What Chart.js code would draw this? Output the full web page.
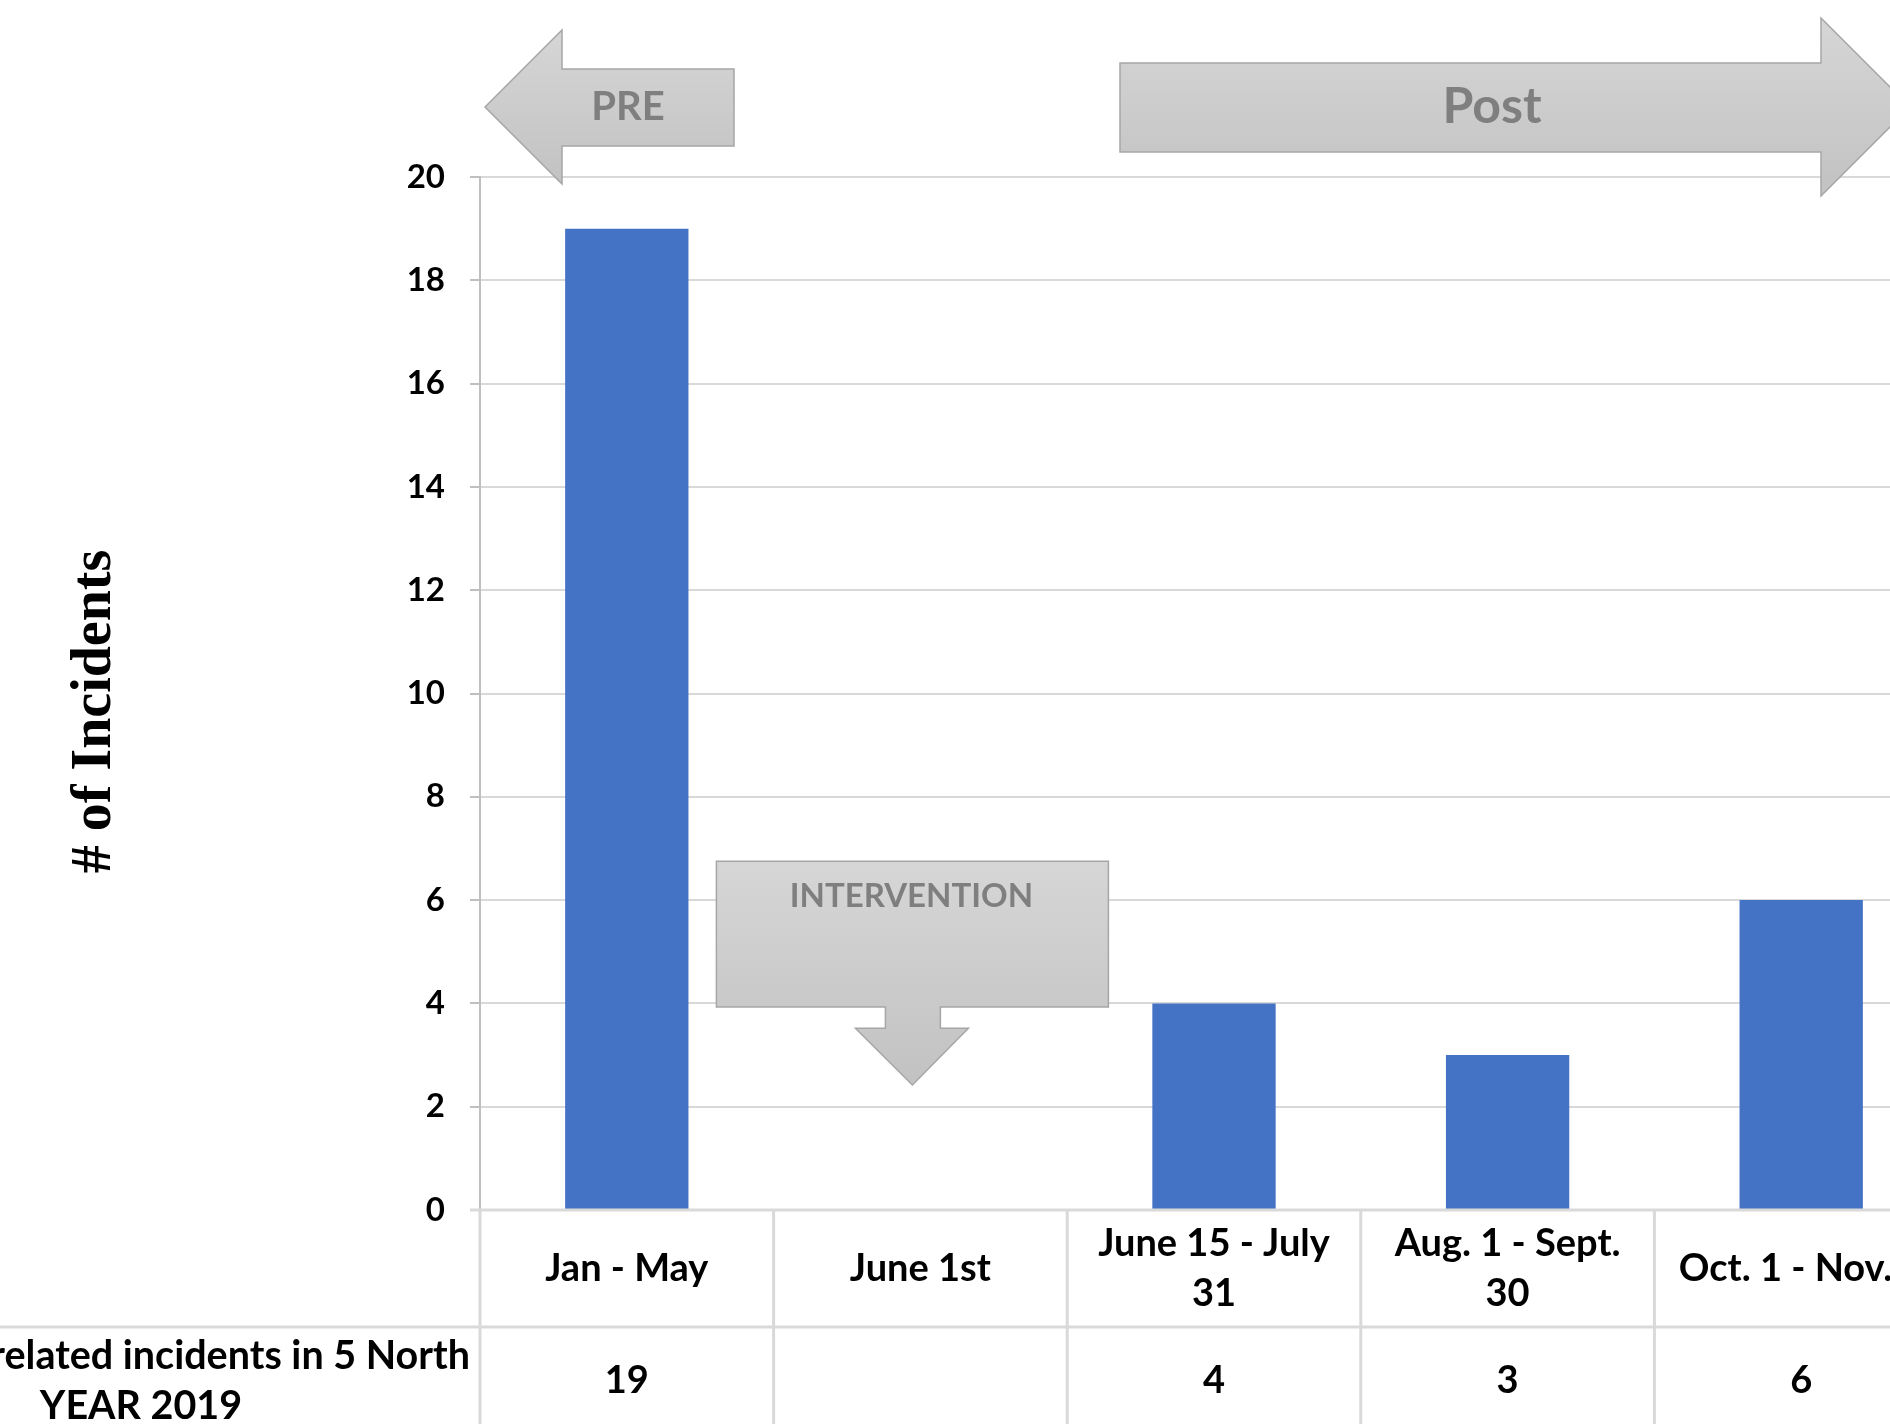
<!DOCTYPE html>
<html>
<head>
<meta charset="utf-8">
<script src="https://cdn.jsdelivr.net/npm/chart.js@4.4.1/dist/chart.umd.min.js"></script>
<style>
  html, body { margin: 0; padding: 0; background: #fff; overflow: hidden; width: 1890px; height: 1424px; }
  #wrap { position: relative; width: 1960px; height: 1424px; }
</style>
</head>
<body>
<div id="wrap"><canvas id="chart" width="1960" height="1424"></canvas></div>
<script>
// data
const categories = [['Jan - May'], ['June 1st'], ['June 15 - July', '31'], ['Aug. 1 - Sept.', '30'], ['Oct. 1 - Nov. 8']];
const incidents = [19, null, 4, 3, 6];
const seriesName = ['Behavior-related incidents in 5 North', 'YEAR 2019'];
const yTicks = { min: 0, max: 20, step: 2 };
const axisTitle = '# of Incidents';
const phaseLabels = { pre: 'PRE', post: 'Post', intervention: 'INTERVENTION' };

const SANS = 'Lato, "Open Sans", sans-serif';
const GRID = '#d9d9d9';

function shapeFill(ctx, top, bottom) {
  const g = ctx.createLinearGradient(0, top, 0, bottom);
  g.addColorStop(0, '#d6d6d6');
  g.addColorStop(1, '#c2c2c2');
  return g;
}

function drawPoly(ctx, pts, top, bottom) {
  ctx.beginPath();
  pts.forEach((p, i) => i ? ctx.lineTo(p[0], p[1]) : ctx.moveTo(p[0], p[1]));
  ctx.closePath();
  ctx.fillStyle = shapeFill(ctx, top, bottom);
  ctx.fill();
  ctx.strokeStyle = '#a6a6a6';
  ctx.lineWidth = 1.5;
  ctx.stroke();
}

// Excel-style data table under the plot
const tablePlugin = {
  id: 'dataTable',
  afterDraw(chart) {
    const { ctx, chartArea, scales: { x } } = chart;
    const half = (x.getPixelForValue(1) - x.getPixelForValue(0)) / 2;
    const top = chartArea.bottom;
    const row1 = 117;
    const h = chart.height;
    ctx.save();
    ctx.strokeStyle = GRID;
    ctx.lineWidth = 3;
    ctx.beginPath();
    ctx.moveTo(chartArea.left - 10, top); ctx.lineTo(chartArea.right, top);
    ctx.moveTo(0, top + row1); ctx.lineTo(chartArea.right, top + row1);
    for (let i = 0; i <= categories.length; i++) {
      const px = x.getPixelForValue(0) - half + i * half * 2;
      ctx.moveTo(px, top); ctx.lineTo(px, h);
    }
    ctx.stroke();

    ctx.fillStyle = '#000';
    ctx.font = 'bold 38px ' + SANS;
    ctx.textAlign = 'center';
    ctx.textBaseline = 'middle';
    const lh = 50;
    categories.forEach((lines, i) => {
      const cx = x.getPixelForValue(i);
      const cy = top + row1 / 2 - (lines.length - 1) * lh / 2;
      lines.forEach((t, j) => ctx.fillText(t, cx, cy + j * lh));
      if (incidents[i] != null) ctx.fillText(String(incidents[i]), cx, top + row1 + 54);
    });
    ctx.font = 'bold 39.5px ' + SANS;
    ctx.textAlign = 'right';
    ctx.fillText(seriesName[0], chartArea.left - 10, top + row1 + 29);
    ctx.textAlign = 'center';
    ctx.fillText(seriesName[1], 141, top + row1 + 79);

    // y axis title
    ctx.save();
    ctx.translate(96, (chartArea.top + chartArea.bottom) / 2 + 18);
    ctx.rotate(-Math.PI / 2);
    ctx.font = 'bold 56px "Liberation Serif", "Times New Roman", serif';
    ctx.fillText(axisTitle, 0, 0);
    ctx.restore();
    ctx.restore();
  }
};

const phasePlugin = {
  id: 'phases',
  afterDraw(chart) {
    const { ctx, scales: { x, y } } = chart;
    ctx.save();
    // PRE arrow (left)
    const cy = 107;
    drawPoly(ctx, [[485, cy], [562, cy - 77], [562, cy - 38], [734, cy - 38], [734, cy + 39], [562, cy + 39], [562, cy + 77]], cy - 77, cy + 77);
    // Post arrow (right)
    drawPoly(ctx, [[1120, cy - 44], [1821, cy - 44], [1821, cy - 89], [1910, cy], [1821, cy + 89], [1821, cy + 45], [1120, cy + 45]], cy - 89, cy + 89);

    // intervention callout over June 1st
    const ix = x.getPixelForValue(1);
    const rt = y.getPixelForValue(6.75), rb = y.getPixelForValue(3.93);
    const st = y.getPixelForValue(3.52), tip = y.getPixelForValue(2.42);
    const l = ix - 204, r = ix + 188;
    drawPoly(ctx, [[l, rt], [r, rt], [r, rb], [ix + 20, rb], [ix + 20, st], [ix + 48, st], [ix - 8, tip], [ix - 65, st], [ix - 35, st], [ix - 35, rb], [l, rb]], rt, tip);

    ctx.fillStyle = '#7f7f7f';
    ctx.textAlign = 'center';
    ctx.textBaseline = 'middle';
    ctx.font = 'bold 40px ' + SANS;
    ctx.fillText(phaseLabels.pre, 628, cy);
    ctx.font = 'bold 50px ' + SANS;
    ctx.fillText(phaseLabels.post, 1492, cy);
    ctx.font = 'bold 33px ' + SANS;
    ctx.fillText(phaseLabels.intervention, ix - 9, rt + 35);
    ctx.restore();
  }
};

const ctx = document.getElementById('chart').getContext('2d');
new Chart(ctx, {
  type: 'bar',
  data: {
    labels: categories,
    datasets: [{
      label: seriesName.join(' '),
      data: incidents,
      backgroundColor: '#4472c4',
      categoryPercentage: 1,
      barPercentage: 0.42
    }]
  },
  options: {
    responsive: false,
    animation: false,
    layout: { padding: { top: 177, right: 12, bottom: 214, left: 0 } },
    plugins: { legend: { display: false }, tooltip: { enabled: false } },
    scales: {
      x: { display: false },
      y: {
        min: yTicks.min,
        max: yTicks.max,
        afterFit(scale) { scale.width = 480; },
        ticks: { stepSize: yTicks.step, color: '#000', padding: 25, font: { family: SANS, size: 33, weight: 'bold' } },
        grid: { color: GRID, lineWidth: 2, tickLength: 10, tickColor: '#bfbfbf' },
        border: { color: '#bfbfbf', width: 2 }
      }
    }
  },
  plugins: [tablePlugin, phasePlugin]
});
</script>
</body>
</html>
